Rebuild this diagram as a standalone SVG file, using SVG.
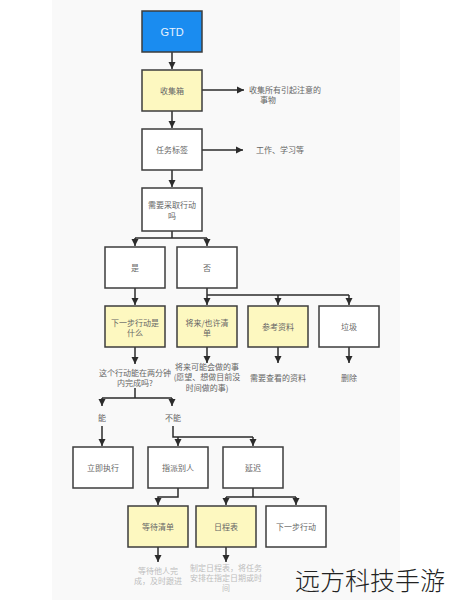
<svg xmlns="http://www.w3.org/2000/svg" width="449" height="600" viewBox="0 0 449 600">
<defs>
<marker id="ah" markerUnits="userSpaceOnUse" markerWidth="8" markerHeight="8" refX="7" refY="4" orient="auto">
<path d="M0,0.5 L7,4 L0,7.5 Z" fill="#2b2b2b"/>
</marker>
<style>
.box{stroke:#3d3d3d;stroke-width:1.5}
.w{fill:#ffffff}
.y{fill:#fdf8c0}
.t{font-family:"Noto Sans CJK SC","Liberation Sans",sans-serif;font-size:8px;fill:#666;text-anchor:middle}
.s{font-family:"Noto Sans CJK SC","Liberation Sans",sans-serif;font-size:8px;fill:#666}
.g{font-family:"Noto Sans CJK SC","Liberation Sans",sans-serif;font-size:8px;fill:#bdbdbd;text-anchor:middle}
.c{fill:none;stroke:#2b2b2b;stroke-width:1.5}
</style>
</defs>
<rect x="0" y="0" width="449" height="600" fill="#ffffff"/>
<rect x="52" y="0" width="348" height="600" fill="#f9f9f9"/>
<g id="connectors">
<path class="c" d="M172,52 V69" marker-end="url(#ah)"/>
<path class="c" d="M202,90 H244" marker-end="url(#ah)"/>
<path class="c" d="M172,111 V128" marker-end="url(#ah)"/>
<path class="c" d="M202,150 H243" marker-end="url(#ah)"/>
<path class="c" d="M172,170 V187" marker-end="url(#ah)"/>
<path class="c" d="M172,231 V238 M135,238 H207"/>
<path class="c" d="M135,238 V246" marker-end="url(#ah)"/>
<path class="c" d="M207,238 V246" marker-end="url(#ah)"/>
<path class="c" d="M135,288 V305" marker-end="url(#ah)"/>
<path class="c" d="M207,288 V305" marker-end="url(#ah)"/>
<path class="c" d="M207,295 H349"/>
<path class="c" d="M278,295 V305" marker-end="url(#ah)"/>
<path class="c" d="M349,295 V305" marker-end="url(#ah)"/>
<path class="c" d="M135,347 V364" marker-end="url(#ah)"/>
<path class="c" d="M207,347 V363" marker-end="url(#ah)"/>
<path class="c" d="M278,347 V363" marker-end="url(#ah)"/>
<path class="c" d="M349,347 V363" marker-end="url(#ah)"/>
<path class="c" d="M135,388 V398 M102,398 H172"/>
<path class="c" d="M102,398 V406" marker-end="url(#ah)"/>
<path class="c" d="M172,398 V406" marker-end="url(#ah)"/>
<path class="c" d="M102,426 V446" marker-end="url(#ah)"/>
<path class="c" d="M173,426 V437 H253"/>
<path class="c" d="M178,437 V446" marker-end="url(#ah)"/>
<path class="c" d="M253,437 V446" marker-end="url(#ah)"/>
<path class="c" d="M178,488 V497 H158 V505" marker-end="url(#ah)"/>
<path class="c" d="M253,488 V497 M226,497 H296"/>
<path class="c" d="M226,497 V505" marker-end="url(#ah)"/>
<path class="c" d="M296,497 V505" marker-end="url(#ah)"/>
<path class="c" d="M158,547 V562" marker-end="url(#ah)"/>
<path class="c" d="M226,547 V562" marker-end="url(#ah)"/>
</g>
<g id="gtd"><rect class="box" x="142" y="11" width="60" height="41" fill="#1a8cf0"/><text x="172" y="35.5" text-anchor="middle" font-family="'Liberation Sans',sans-serif" font-size="11" fill="#e8f3ff">GTD</text></g>
<g id="inbox"><rect class="box y" x="142" y="70" width="60" height="41"/><text class="t" x="172" y="93.5">收集箱</text></g>
<g id="inbox-note"><text class="s" x="249" y="93">收集所有引起注意的</text><text class="s" x="260" y="103">事物</text></g>
<g id="tags"><rect class="box w" x="142" y="129" width="60" height="41"/><text class="t" x="172" y="153">任务标签</text></g>
<g id="tags-note"><text class="s" x="256" y="153">工作、学习等</text></g>
<g id="need"><rect class="box w" x="142" y="188" width="60" height="43"/><text class="t" x="172" y="208">需要采取行动</text><text class="t" x="172" y="219">吗</text></g>
<g id="yes"><rect class="box w" x="105" y="247" width="60" height="41"/><text class="t" x="135" y="271">是</text></g>
<g id="no"><rect class="box w" x="177" y="247" width="60" height="41"/><text class="t" x="207" y="271">否</text></g>
<g id="next"><rect class="box y" x="105" y="306" width="60" height="41"/><text class="t" x="135" y="326">下一步行动是</text><text class="t" x="135" y="336">什么</text></g>
<g id="someday"><rect class="box y" x="177" y="306" width="60" height="41"/><text class="t" x="207" y="326">将来/也许清</text><text class="t" x="207" y="336">单</text></g>
<g id="ref"><rect class="box y" x="248" y="306" width="60" height="41"/><text class="t" x="278" y="330">参考资料</text></g>
<g id="trash"><rect class="box w" x="319" y="306" width="60" height="41"/><text class="t" x="349" y="330">垃圾</text></g>
<g id="two-min"><text class="t" x="135" y="376">这个行动能在两分钟</text><text class="t" x="135" y="386">内完成吗?</text></g>
<g id="someday-note"><text class="t" x="207" y="370">将来可能会做的事</text><text class="t" x="207" y="380">(愿望、想做目前没</text><text class="t" x="207" y="391">时间做的事)</text></g>
<g id="ref-note"><text class="t" x="278" y="381">需要查看的资料</text></g>
<g id="trash-note"><text class="t" x="349" y="381">删除</text></g>
<g id="can"><text class="t" x="102" y="421">能</text></g>
<g id="cannot"><text class="t" x="173" y="421">不能</text></g>
<g id="do-now"><rect class="box w" x="73" y="447" width="60" height="41"/><text class="t" x="103" y="471">立即执行</text></g>
<g id="delegate"><rect class="box w" x="148" y="447" width="60" height="41"/><text class="t" x="178" y="471">指派别人</text></g>
<g id="defer"><rect class="box w" x="223" y="447" width="60" height="41"/><text class="t" x="253" y="471">延迟</text></g>
<g id="waiting"><rect class="box y" x="128" y="506" width="60" height="41"/><text class="t" x="158" y="530">等待清单</text></g>
<g id="calendar"><rect class="box y" x="196" y="506" width="60" height="41"/><text class="t" x="226" y="530">日程表</text></g>
<g id="next-action"><rect class="box w" x="266" y="506" width="60" height="41"/><text class="t" x="296" y="530">下一步行动</text></g>
<g id="waiting-note"><text class="g" x="158" y="574">等待他人完</text><text class="g" x="158" y="584">成，及时跟进</text></g>
<g id="calendar-note"><text class="g" x="226" y="571">制定日程表，将任务</text><text class="g" x="226" y="581">安排在指定日期或时</text><text class="g" x="226" y="591">间</text></g>
<text x="370" y="590" text-anchor="middle" font-family="'Noto Sans CJK SC',sans-serif" font-size="25" font-weight="300" fill="#222">远方科技手游</text>
</svg>
